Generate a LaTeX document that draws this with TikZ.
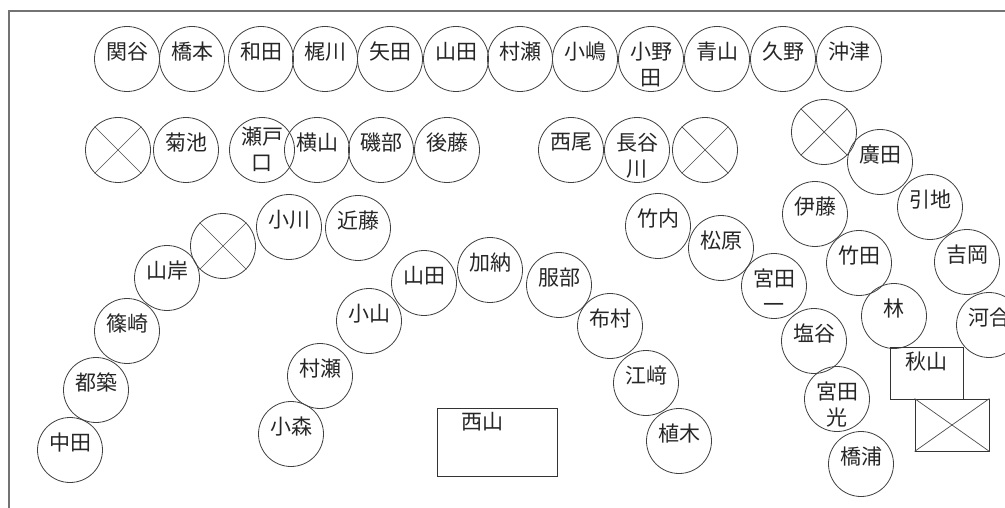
\documentclass[tikz,border=0pt]{standalone}
\usepackage{fontspec}
\newfontfamily\jp{Noto Sans CJK JP}
\tikzset{
  seat/.style={circle, draw=black!75, line width=0.8pt, minimum size=65pt, inner sep=0pt},
  lbl/.style={font=\fontsize{21}{26}\selectfont\jp, text=black!85, inner sep=0pt, anchor=north, align=center},
  desk/.style={rectangle, draw=black!80, line width=0.9pt, inner sep=0pt},
  cross/.style={draw=black!70, line width=0.7pt},
  frame/.style={draw=black!55, line width=1.6pt}
}
\newcommand\seat[4]{\node[seat] (#1) at (#2,#3) {};
  \node[lbl] (#1-t) at ([yshift=17pt]#1.center) {#4};}
\newcommand\xseat[3]{\node[seat] (#1) at (#2,#3) {};
  \draw[cross] (#1.45) -- (#1.225) (#1.135) -- (#1.-45);}
\begin{document}
\begin{tikzpicture}[x=1pt,y=-1pt]
\useasboundingbox (0,0) rectangle (1005,508);
\clip (0,0) rectangle (1005,508);
\coordinate (fb) at (9,515);
\coordinate (fc) at (9,11);
\coordinate (fr) at (1012,11);
\draw[frame] (fb) -- (fc) -- (fr);
% top row
\seat{a1}{127}{59}{関谷}
\seat{a2}{192}{59}{橋本}
\seat{a3}{261}{59}{和田}
\seat{a4}{325}{59}{梶川}
\seat{a5}{390}{59}{矢田}
\seat{a6}{456}{59}{山田}
\seat{a7}{520}{59}{村瀬}
\seat{a8}{585}{59}{小嶋}
\seat{a9}{651}{59}{小野\\田}
\seat{a10}{717}{59}{青山}
\seat{a11}{783}{59}{久野}
\seat{a12}{849}{59}{沖津}
% second row
\xseat{b1}{118}{150}
\seat{b2}{186}{150}{菊池}
\node[seat] (b3) at (262,150) {};
\node[lbl] (b3-t) at ([yshift=23pt]b3.center) {瀬戸\\口};
\seat{b4}{317}{150}{横山}
\seat{b5}{381}{150}{磯部}
\seat{b6}{447}{150}{後藤}
\seat{b7}{571}{150}{西尾}
\seat{b8}{637}{150}{長谷\\川}
\xseat{b9}{705}{150}
% left arc
\seat{c1}{70}{450}{中田}
\seat{c2}{96}{390}{都築}
\seat{c3}{127}{331}{篠崎}
\seat{c4}{167}{278}{山岸}
\xseat{c5}{223}{246}
\seat{c6}{289}{227}{小川}
\seat{c7}{358}{228}{近藤}
% centre arc
\seat{d1}{291}{434}{小森}
\seat{d2}{320}{376}{村瀬}
\seat{d3}{369}{321}{小山}
\seat{d4}{424}{283}{山田}
\seat{d5}{490}{270}{加納}
\seat{d6}{559}{285}{服部}
\seat{d7}{610}{326}{布村}
\seat{d8}{646}{383}{江﨑}
\seat{d9}{679}{441}{植木}
\node[desk, minimum width=120pt, minimum height=68pt] (e1) at (497,442) {};
\node[lbl] (e1-t) at ([xshift=-15pt,yshift=-5pt]e1.north) {西山};
% right group
\seat{f1}{658}{226}{竹内}
\seat{f2}{721}{248}{松原}
\seat{f3}{774}{286}{宮田\\一}
\seat{f4}{814}{341}{塩谷}
\seat{f5}{837}{399}{宮田\\光}
\seat{f6}{861}{464}{橋浦}
\seat{f7}{815}{214}{伊藤}
\seat{f8}{859}{263}{竹田}
\seat{f9}{894}{316}{林}
\xseat{f10}{824}{132}
\seat{f11}{880}{162}{廣田}
\seat{f12}{930}{207}{引地}
\seat{f13}{967}{262}{吉岡}
\seat{f14}{989}{325}{河合}
\node[desk, minimum width=73pt, minimum height=52pt] (g1) at (926.5,373) {};
\node[lbl] (g1-t) at ([yshift=-5pt]g1.north) {秋山};
\node[desk, minimum width=74pt, minimum height=52pt] (g2) at (952,425) {};
\draw[cross] (g2.north west) -- (g2.south east) (g2.north east) -- (g2.south west);
\end{tikzpicture}
\end{document}
